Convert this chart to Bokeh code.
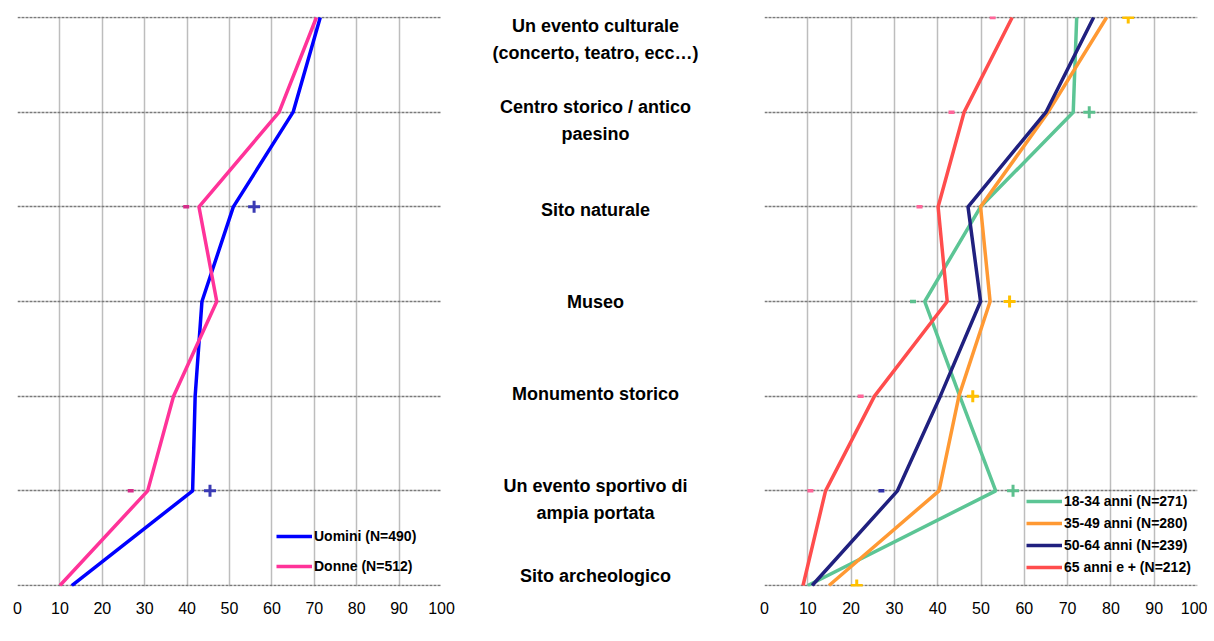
from bokeh.plotting import figure
from bokeh.layouts import row
from bokeh.models import Range1d, FixedTicker, Legend, LegendItem, ColumnDataSource, LabelSet
from bokeh.core.properties import value
from bokeh.embed import file_html
from bokeh.resources import INLINE

# ---------------- data ----------------
CATEGORIES = [
    "Un evento culturale\n(concerto, teatro, ecc…)",
    "Centro storico / antico\npaesino",
    "Sito naturale",
    "Museo",
    "Monumento storico",
    "Un evento sportivo di\nampia portata",
    "Sito archeologico",
]
X_TICKS = [0, 10, 20, 30, 40, 50, 60, 70, 80, 90, 100]

# left panel (gender)
UOMINI = [71.4, 65.0, 50.9, 43.5, 41.9, 41.3, 12.8]
DONNE = [70.5, 61.7, 42.8, 47.0, 36.8, 30.7, 10.0]
UOMINI_PLUS = [None, None, 55.8, None, None, 45.4, None]
DONNE_MINUS = [None, None, 39.8, None, None, 26.7, None]

# right panel (age)
AGE_18_34 = [72.1, 71.3, 49.9, 37.0, 45.1, 53.4, 10.0]
AGE_35_49 = [79.0, 65.5, 49.9, 52.1, 44.9, 40.3, 14.9]
AGE_50_64 = [76.0, 65.0, 47.0, 49.9, 40.6, 30.7, 11.0]
AGE_65 = [57.2, 46.1, 40.1, 42.2, 25.4, 14.1, 8.9]
AGE_18_34_PLUS = [None, 75.0, None, None, None, 57.4, None]
AGE_18_34_MINUS = [None, None, None, 34.3, None, None, None]
AGE_35_49_PLUS = [84.0, None, None, 56.6, 48.1, None, 21.3]
AGE_50_64_MINUS = [None, None, None, None, None, 27.0, None]
AGE_65_MINUS = [52.7, 43.2, 35.8, None, 22.2, 10.6, None]

LEFT_LABELS = ["Uomini (N=490)", "Donne (N=512)"]
RIGHT_LABELS = ["18-34 anni (N=271)", "35-49 anni (N=280)", "50-64 anni (N=239)", "65 anni e + (N=212)"]

# ---------------- styling ----------------
FONT = "Liberation Sans"
N = len(CATEGORIES)
YPOS = [N - 1 - i for i in range(N)]  # top category drawn at top
LABEL_DY = [22, 8, 3, 0, -2, 9, -10]   # pixel nudges (down = +) for the middle labels
LINE_PITCH = 27
H = 627
FRAME_H = 572
PAD = 0.0105


def make_panel(width, border_left, border_right, border_top):
    p = figure(width=width, height=H, output_backend="svg", toolbar_location=None,
               x_range=Range1d(0, 100), y_range=Range1d(-PAD, N - 1 + PAD),
               y_axis_location=None, min_border_left=border_left,
               min_border_right=border_right, min_border_top=border_top,
               min_border_bottom=H - FRAME_H - border_top)
    p.outline_line_color = None
    p.background_fill_color = "white"
    p.border_fill_color = "white"
    p.xaxis.ticker = FixedTicker(ticks=X_TICKS)
    p.xaxis.axis_line_color = None
    p.xaxis.major_tick_line_color = None
    p.xaxis.minor_tick_line_color = None
    p.xaxis.major_label_text_font = FONT
    p.xaxis.major_label_text_font_size = "16px"
    p.xaxis.major_label_text_color = "black"
    p.xaxis.major_label_standoff = 9
    p.xgrid.ticker = FixedTicker(ticks=X_TICKS)
    p.xgrid.grid_line_color = "#bdbdbd"
    p.xgrid.grid_line_width = 1.5
    p.ygrid.ticker = FixedTicker(ticks=list(range(N)))
    p.ygrid.grid_line_color = "#7a7a7a"
    p.ygrid.grid_line_width = 1.3
    p.ygrid.grid_line_dash = "3 1"
    return p


def markers(p, vals, kind, color):
    xs = [v for v in vals if v is not None]
    ys = [YPOS[i] for i, v in enumerate(vals) if v is not None]
    if kind == "+":
        p.scatter(xs, ys, marker="cross", size=12, line_width=3, line_color=color)
    else:
        p.scatter(xs, ys, marker="dash", size=6, line_width=3.5, line_color=color)


def add_legend(p, renderers, labels, loc, spacing, pitch_h):
    leg = Legend(items=[LegendItem(label=l, renderers=[r]) for l, r in zip(labels, renderers)],
                 location=loc, orientation="vertical")
    leg.label_text_font = FONT
    leg.label_text_font_style = "bold"
    leg.label_text_font_size = "14px"
    leg.label_text_color = "black"
    leg.glyph_width = 36
    leg.glyph_height = pitch_h
    leg.label_height = pitch_h
    leg.spacing = spacing
    leg.padding = 0
    leg.margin = 0
    leg.label_standoff = 2
    leg.border_line_color = None
    leg.background_fill_alpha = 0
    p.add_layout(leg, "center")


# ---------------- left panel ----------------
left = make_panel(455, 17, 14, 14)
r_u = left.line(UOMINI, YPOS, line_color="#0000ff", line_width=3.5)
r_d = left.line(DONNE, YPOS, line_color="#ff3399", line_width=3.5)
markers(left, UOMINI_PLUS, "+", "#3a3ab4")
markers(left, DONNE_MINUS, "-", "#d62d8a")
add_legend(left, [r_u, r_d], LEFT_LABELS, (259, 10), 10, 20)

# ---------------- middle labels ----------------
mid = figure(width=301, height=H, output_backend="svg", toolbar_location=None,
             x_range=Range1d(0, 301), y_range=Range1d(-PAD, N - 1 + PAD),
             x_axis_location=None, y_axis_location=None,
             min_border_left=0, min_border_right=0, min_border_top=14,
             min_border_bottom=H - FRAME_H - 14)
mid.outline_line_color = None
mid.xgrid.visible = False
mid.ygrid.visible = False
lx, ly, lt, lo = [], [], [], []
for cat, yv, dy in zip(CATEGORIES, YPOS, LABEL_DY):
    parts = cat.split("\n")
    n = len(parts)
    for j, part in enumerate(parts):
        lx.append(140)
        ly.append(yv)
        lt.append(part)
        lo.append(-(dy + (j - (n - 1) / 2) * LINE_PITCH))
src = ColumnDataSource(dict(x=lx, y=ly, t=lt, dy=lo))
labels = LabelSet(x="x", y="y", text="t", y_offset="dy", source=src, text_align="center",
                  text_baseline="middle", text_font=value(FONT), text_font_style="bold",
                  text_font_size="18px", text_color="black")
mid.add_layout(labels)

# ---------------- right panel ----------------
right = make_panel(451, 8, 10, 16)
r1 = right.line(AGE_18_34, YPOS, line_color="#5cc595", line_width=3.5)
r2 = right.line(AGE_35_49, YPOS, line_color="#ff9933", line_width=3.5)
r3 = right.line(AGE_50_64, YPOS, line_color="#20207f", line_width=3.5)
r4 = right.line(AGE_65, YPOS, line_color="#ff4d4d", line_width=3.5)
markers(right, AGE_18_34_PLUS, "+", "#5cc08e")
markers(right, AGE_18_34_MINUS, "-", "#5cc08e")
markers(right, AGE_35_49_PLUS, "+", "#ffc000")
markers(right, AGE_50_64_MINUS, "-", "#3333aa")
markers(right, AGE_65_MINUS, "-", "#ff6699")
add_legend(right, [r1, r2, r3, r4], RIGHT_LABELS, (262, 9), 2, 20)

layout = row(left, mid, right, spacing=0)
open("out.html", "w").write(file_html(layout, INLINE))
